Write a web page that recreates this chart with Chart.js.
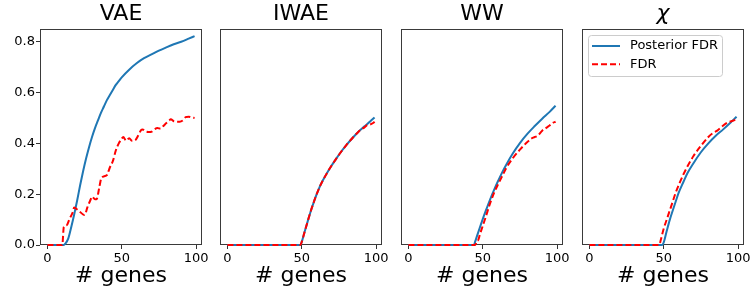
<!DOCTYPE html>
<html>
<head>
<meta charset="utf-8">
<script src="https://cdn.jsdelivr.net/npm/chart.js@4.4.1/dist/chart.umd.min.js"></script>
<style>
  html, body { margin: 0; padding: 0; background: #fff; overflow: hidden; }
  #wrap { position: relative; width: 750px; height: 290px; overflow: hidden; }
  #wrap canvas { position: absolute; top: 0; }
</style>
</head>
<body>
<div id="wrap">
  <canvas id="c0"></canvas>
  <canvas id="c1"></canvas>
  <canvas id="c2"></canvas>
  <canvas id="c3"></canvas>
</div>
<script>
const titles = ['VAE', 'IWAE', 'WW', 'χ'];
const seriesNames = ['Posterior FDR', 'FDR'];
const xLabel = '# genes';
const xTicks = [0, 50, 100];
const yTicks = [0, 0.2, 0.4, 0.6, 0.8];

// VAE
const vaePostX = [0, 11, 12, 14, 16, 18, 20, 22, 24, 26, 28, 30, 32, 34, 36, 38, 40, 42, 44, 46, 48, 50, 55, 60, 65, 70, 75, 80, 85, 90, 95, 99];
const vaePostY = [0, 0, 0.005, 0.025, 0.07, 0.12, 0.175, 0.235, 0.29, 0.34, 0.385, 0.425, 0.46, 0.49, 0.52, 0.545, 0.57, 0.59, 0.61, 0.63, 0.645, 0.66, 0.69, 0.715, 0.735, 0.75, 0.765, 0.778, 0.79, 0.80, 0.812, 0.822];
const vaeFdrX = [0, 10, 11, 13, 15, 17, 18, 20, 22, 24, 25, 27, 29, 30, 32, 33, 35, 36, 38, 40, 42, 44, 46, 48, 50, 51, 53, 55, 57, 59, 61, 63, 64, 66, 68, 70, 72, 74, 76, 78, 80, 82, 83, 85, 87, 89, 91, 93, 95, 97, 99];
const vaeFdrY = [0, 0, 0.07, 0.078, 0.105, 0.128, 0.148, 0.14, 0.13, 0.12, 0.118, 0.15, 0.178, 0.19, 0.18, 0.18, 0.23, 0.258, 0.27, 0.275, 0.305, 0.33, 0.372, 0.4, 0.418, 0.425, 0.41, 0.42, 0.41, 0.412, 0.43, 0.452, 0.455, 0.447, 0.445, 0.446, 0.455, 0.46, 0.458, 0.468, 0.48, 0.49, 0.495, 0.487, 0.485, 0.485, 0.49, 0.503, 0.505, 0.502, 0.5];

// IWAE
const iwaePostX = [0, 49, 50, 52, 54, 56, 58, 60, 62, 64, 66, 68, 70, 73, 76, 80, 84, 88, 92, 96, 99];
const iwaePostY = [0, 0, 0.012, 0.053, 0.093, 0.132, 0.167, 0.199, 0.228, 0.252, 0.273, 0.293, 0.312, 0.338, 0.363, 0.393, 0.42, 0.445, 0.466, 0.486, 0.502];
const iwaeFdrX = [0, 49, 50, 52, 54, 56, 58, 60, 62, 64, 66, 68, 70, 73, 76, 80, 84, 88, 90, 92, 94, 96, 98, 99];
const iwaeFdrY = [0, 0, 0.012, 0.053, 0.093, 0.132, 0.167, 0.199, 0.228, 0.252, 0.273, 0.293, 0.312, 0.338, 0.363, 0.393, 0.42, 0.445, 0.455, 0.462, 0.472, 0.474, 0.48, 0.485];

// WW
const wwPostX = [0, 44, 45, 46, 48, 50, 52, 55, 58, 60, 63, 66, 70, 75, 80, 85, 90, 95, 99];
const wwPostY = [0, 0, 0.015, 0.033, 0.068, 0.102, 0.134, 0.18, 0.222, 0.248, 0.285, 0.318, 0.358, 0.401, 0.437, 0.468, 0.497, 0.524, 0.548];
const wwFdrX = [0, 45, 46, 47, 48, 50, 52, 55, 58, 60, 63, 66, 70, 75, 80, 83, 85, 87, 90, 93, 95, 97, 99];
const wwFdrY = [0, 0, 0.015, 0.02, 0.04, 0.075, 0.11, 0.165, 0.21, 0.235, 0.27, 0.305, 0.34, 0.375, 0.405, 0.42, 0.425, 0.43, 0.45, 0.462, 0.47, 0.48, 0.485];

// chi
const chiPostX = [0, 49, 50, 52, 54, 56, 58, 60, 63, 66, 70, 75, 80, 85, 90, 95, 99];
const chiPostY = [0, 0, 0.01, 0.055, 0.098, 0.135, 0.17, 0.205, 0.245, 0.283, 0.322, 0.365, 0.4, 0.43, 0.455, 0.482, 0.505];
const chiFdrX = [0, 47, 48, 50, 52, 54, 56, 58, 60, 63, 66, 70, 75, 80, 83, 86, 90, 93, 96, 99];
const chiFdrY = [0, 0, 0.02, 0.065, 0.1, 0.135, 0.17, 0.205, 0.235, 0.275, 0.31, 0.35, 0.39, 0.425, 0.44, 0.45, 0.47, 0.482, 0.488, 0.495];

const panelData = [
  [vaePostX, vaePostY, vaeFdrX, vaeFdrY],
  [iwaePostX, iwaePostY, iwaeFdrX, iwaeFdrY],
  [wwPostX, wwPostY, wwFdrX, wwFdrY],
  [chiPostX, chiPostY, chiFdrX, chiFdrY]
];

const FONT = "'DejaVu Sans', sans-serif";
const BLUE = '#1f77b4';
const RED = '#ff0000';
const panelLeft = [40, 220, 401, 582];
const panelW = 162;
const padRight = 12;

const pts = (xs, ys) => xs.map((x, i) => ({ x: x, y: ys[i] }));

// box around the axes, like matplotlib spines
const framePlugin = {
  id: 'frame',
  beforeDatasetsDraw(chart) {
    const a = chart.chartArea;
    const ctx = chart.ctx;
    ctx.save();
    ctx.strokeStyle = '#3a3a3a';
    ctx.lineWidth = 1;
    ctx.strokeRect(Math.round(a.left) + 0.5, Math.round(a.top) + 0.5,
      Math.round(a.right - a.left) - 1, Math.round(a.bottom - a.top) - 1);
    ctx.restore();
  }
};

// legend inside the last panel, upper left
const boxLegend = {
  id: 'boxLegend',
  afterDraw(chart, args, opts) {
    if (!opts.show) return;
    const a = chart.chartArea;
    const ctx = chart.ctx;
    const bx = Math.round(a.left) + 6, by = Math.round(a.top) + 6, bw = 134, bh = 41;
    ctx.save();
    ctx.beginPath();
    ctx.roundRect(bx + 0.5, by + 0.5, bw, bh, 3);
    ctx.fillStyle = 'rgba(255,255,255,0.8)';
    ctx.fill();
    ctx.strokeStyle = '#cccccc';
    ctx.lineWidth = 1;
    ctx.stroke();
    chart.data.datasets.forEach((ds, i) => {
      const yy = by + 11 + i * 18.3;
      ctx.beginPath();
      ctx.setLineDash(ds.borderDash || []);
      ctx.strokeStyle = ds.borderColor;
      ctx.lineWidth = ds.borderWidth;
      ctx.moveTo(bx + 4, yy);
      ctx.lineTo(bx + 32, yy);
      ctx.stroke();
      ctx.setLineDash([]);
      ctx.fillStyle = '#000';
      ctx.font = '13px ' + FONT;
      ctx.textBaseline = 'middle';
      ctx.fillText(ds.label, bx + 42, yy);
    });
    ctx.restore();
  }
};

panelData.forEach((d, i) => {
  const padL = i === 0 ? 40 : 10;
  const canvas = document.getElementById('c' + i);
  const w = padL + panelW + padRight;
  canvas.width = w;
  canvas.height = 290;
  canvas.style.width = w + 'px';
  canvas.style.height = '290px';
  canvas.style.left = (panelLeft[i] - padL) + 'px';

  new Chart(canvas, {
    type: 'line',
    data: {
      datasets: [{
        label: seriesNames[0],
        data: pts(d[0], d[1]),
        borderColor: BLUE,
        borderWidth: 2,
        pointRadius: 0,
        cubicInterpolationMode: 'monotone',
        clip: { left: 0, right: 0, top: 0, bottom: 1 },
        order: 2
      }, {
        label: seriesNames[1],
        data: pts(d[2], d[3]),
        borderColor: RED,
        borderWidth: 2,
        borderDash: [6, 3],
        pointRadius: 0,
        cubicInterpolationMode: 'monotone',
        clip: { left: 0, right: 0, top: 0, bottom: 1 },
        order: 1
      }]
    },
    options: {
      responsive: false,
      animation: false,
      devicePixelRatio: 1,
      layout: { padding: { left: i === 0 ? 0 : padL, right: padRight, top: 0, bottom: 0 } },
      plugins: {
        legend: { display: false },
        tooltip: { enabled: false },
        title: {
          display: true,
          fullSize: false,
          text: titles[i],
          color: '#000',
          font: { family: FONT, size: 22, weight: 'normal', style: i === 3 ? 'italic' : 'normal' },
          padding: { top: 1, bottom: 1.6 }
        },
        boxLegend: { show: i === 3 }
      },
      scales: {
        x: {
          type: 'linear',
          min: -5,
          max: 104,
          afterBuildTicks: s => { s.ticks = xTicks.map(v => ({ value: v })); },
          afterFit: s => { s.height = 45; },
          grid: { drawOnChartArea: false, drawTicks: true, tickLength: 4, color: '#333' },
          border: { display: false },
          ticks: {
            color: '#000',
            font: { family: FONT, size: 13 },
            padding: 2,
            maxRotation: 0,
            callback: v => String(v)
          },
          title: {
            display: true,
            text: xLabel,
            color: '#000',
            font: { family: FONT, size: 22 },
            padding: { top: 0, bottom: 1 }
          }
        },
        y: {
          display: i === 0,
          min: 0,
          max: 0.85,
          afterBuildTicks: s => { s.ticks = yTicks.map(v => ({ value: v })); },
          afterFit: s => { if (i === 0) s.width = 40; },
          grid: { drawOnChartArea: false, drawTicks: true, tickLength: 4, color: '#333' },
          border: { display: false },
          ticks: {
            color: '#000',
            font: { family: FONT, size: 13 },
            padding: 1,
            callback: v => v.toFixed(1)
          }
        }
      }
    },
    plugins: [framePlugin, boxLegend]
  });
});
</script>
</body>
</html>
